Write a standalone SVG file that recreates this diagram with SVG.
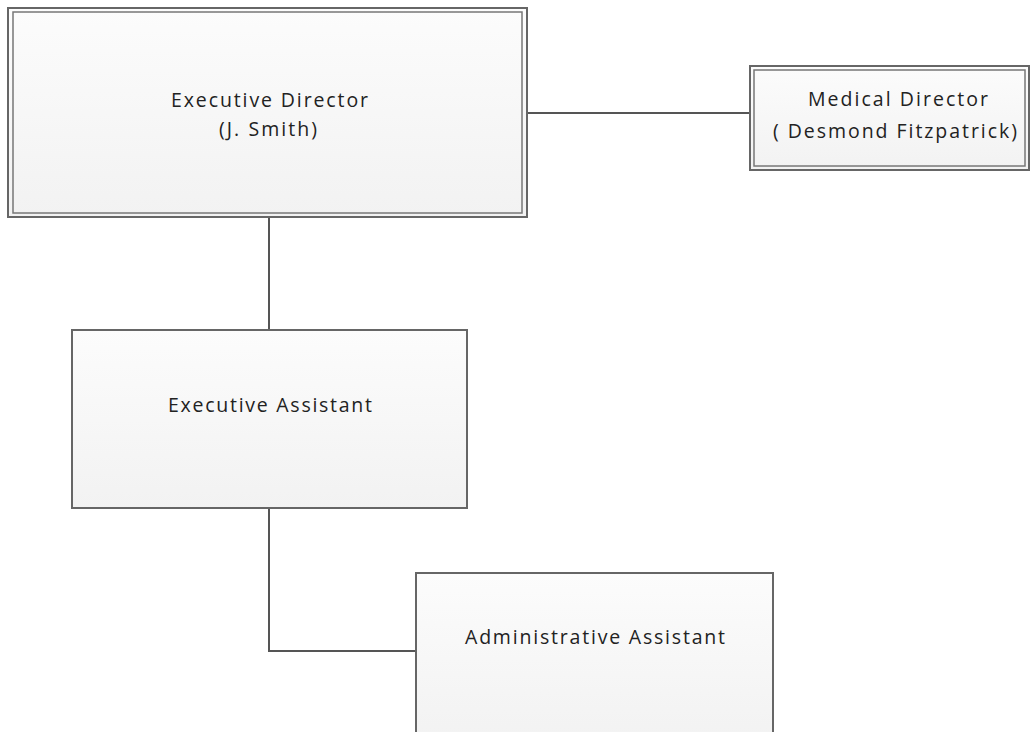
<svg xmlns="http://www.w3.org/2000/svg" width="1032" height="732" viewBox="0 0 1032 732">
<defs>
<linearGradient id="g" x1="0" y1="0" x2="0" y2="1">
<stop offset="0" stop-color="#fcfcfc"/>
<stop offset="1" stop-color="#f2f2f2"/>
</linearGradient>
</defs>
<style>
.box{fill:url(#g);stroke:#666;stroke-width:2}
.inner{fill:none;stroke:#777;stroke-width:1.5}
.t{font-family:"Open Sans","Liberation Sans",sans-serif;font-size:19.5px;fill:#222;text-anchor:start}
.c{stroke:#555;stroke-width:2;fill:none}
</style>
<rect width="1032" height="732" fill="#fff"/>
<g id="connectors">
<line class="c" x1="527" y1="113" x2="750" y2="113"/>
<line class="c" x1="269" y1="217" x2="269" y2="330"/>
<polyline class="c" points="269,508 269,651 416,651"/>
</g>
<g id="executive-director">
<rect class="box" x="8" y="8" width="519" height="209"/>
<rect class="inner" x="13" y="12" width="509" height="201"/>
<text class="t" x="171" y="107" textLength="197" lengthAdjust="spacing">Executive Director</text>
<text class="t" x="219" y="136" textLength="98" lengthAdjust="spacing">(J. Smith)</text>
</g>
<g id="medical-director">
<rect class="box" x="750" y="66" width="279" height="104"/>
<rect class="inner" x="754" y="70" width="271" height="96"/>
<text class="t" x="808" y="106" textLength="180" lengthAdjust="spacing">Medical Director</text>
<text class="t" x="773" y="138" textLength="244" lengthAdjust="spacing">( Desmond Fitzpatrick)</text>
</g>
<g id="executive-assistant">
<rect class="box" x="72" y="330" width="395" height="178"/>
<text class="t" x="168" y="412" textLength="204" lengthAdjust="spacing">Executive Assistant</text>
</g>
<g id="administrative-assistant">
<rect class="box" x="416" y="573" width="357" height="170"/>
<text class="t" x="465" y="644" textLength="260" lengthAdjust="spacing">Administrative Assistant</text>
</g>
</svg>
